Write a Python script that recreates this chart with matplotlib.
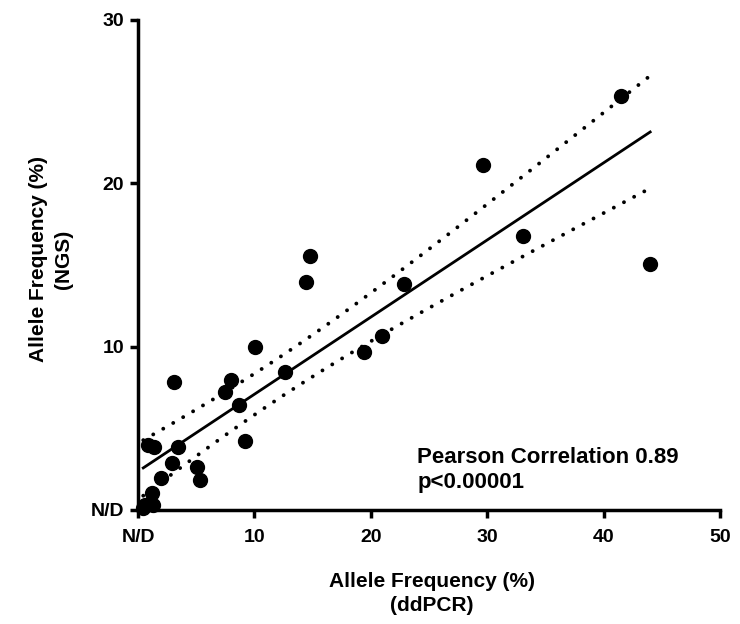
import matplotlib
matplotlib.use('Agg')
import matplotlib.pyplot as plt
import numpy as np

# --- data ----------------------------------------------------------------------
ddpcr = [41.5, 29.6, 33.1, 44.0, 14.75, 14.45, 22.85, 10.05, 21.0, 19.4,
         12.6, 3.1, 8.0, 7.45, 8.65, 9.2, 0.85, 1.4, 3.4, 2.95,
         5.05, 5.3, 1.95, 1.2, 0.6, 1.3, 0.45]
ngs = [25.35, 21.15, 16.8, 15.05, 15.55, 13.95, 13.85, 10.0, 10.65, 9.65,
       8.45, 7.85, 7.95, 7.25, 6.45, 4.25, 3.95, 3.85, 3.85, 2.85,
       2.65, 1.85, 1.95, 1.05, 0.3, 0.3, 0.1]

x_ticks = [0, 10, 20, 30, 40, 50]
x_ticklabels = ['N/D', '10', '20', '30', '40', '50']
y_ticks = [0, 10, 20, 30]
y_ticklabels = ['N/D', '10', '20', '30']
stats_text = 'Pearson Correlation 0.89\np<0.00001'

T_CRIT = 2.06  # 95 % two-sided, n-2 dof

# --- linear fit and 95 % confidence band --------------------------------------
x = np.array(ddpcr)
y = np.array(ngs)
n = len(x)
slope, icpt = np.polyfit(x, y, 1)
resid = y - (slope * x + icpt)
s = np.sqrt(np.sum(resid ** 2) / (n - 2))
xf = np.linspace(x.min(), x.max(), 200)
yf = slope * xf + icpt
se = s * np.sqrt(1 / n + (xf - x.mean()) ** 2 / np.sum((x - x.mean()) ** 2))

# --- figure -------------------------------------------------------------------
plt.rcParams['font.family'] = ['Liberation Sans', 'DejaVu Sans']
fig = plt.figure(figsize=(7.4, 6.24), dpi=100)
ax = fig.add_axes([0.1865, 0.1827, 0.7865, 0.7853])

ax.plot(xf, yf, color='black', lw=2, zorder=3)
dots = (0, (0.01, 2.95))
for band in (yf + T_CRIT * se, yf - T_CRIT * se):
    ax.plot(xf, band, color='black', lw=2.8, ls=dots,
            dash_capstyle='round', zorder=3)
ax.plot(ddpcr, ngs, 'o', color='black', ms=10, zorder=4, clip_on=False)

ax.set_xlim(0, 50)
ax.set_ylim(0, 30)
ax.set_xticks(x_ticks)
ax.set_xticklabels(x_ticklabels)
ax.set_yticks(y_ticks)
ax.set_yticklabels(y_ticklabels)
for sp in ['top', 'right']:
    ax.spines[sp].set_visible(False)
for sp in ['left', 'bottom']:
    ax.spines[sp].set_linewidth(2.5)
ax.tick_params(direction='out', length=6, width=2.5, labelsize=14)
ax.tick_params(axis='x', pad=8)
ax.tick_params(axis='y', pad=4)
for lab in ax.get_xticklabels() + ax.get_yticklabels():
    lab.set_fontweight('bold')

# axis titles placed in figure coordinates
fig.text(0.584, 0.049, 'Allele Frequency (%)\n(ddPCR)', fontsize=15,
         fontweight='bold', ha='center', va='center', ma='center',
         linespacing=1.3)
fig.text(0.069, 0.585, 'Allele Frequency (%)\n(NGS)', fontsize=15,
         fontweight='bold', ha='center', va='center', ma='center',
         rotation=90, linespacing=1.45)

ax.text(24.0, 2.45, stats_text, fontsize=16, fontweight='bold', ha='left',
        va='center', linespacing=1.3)

fig.savefig('out.png', dpi=100)
